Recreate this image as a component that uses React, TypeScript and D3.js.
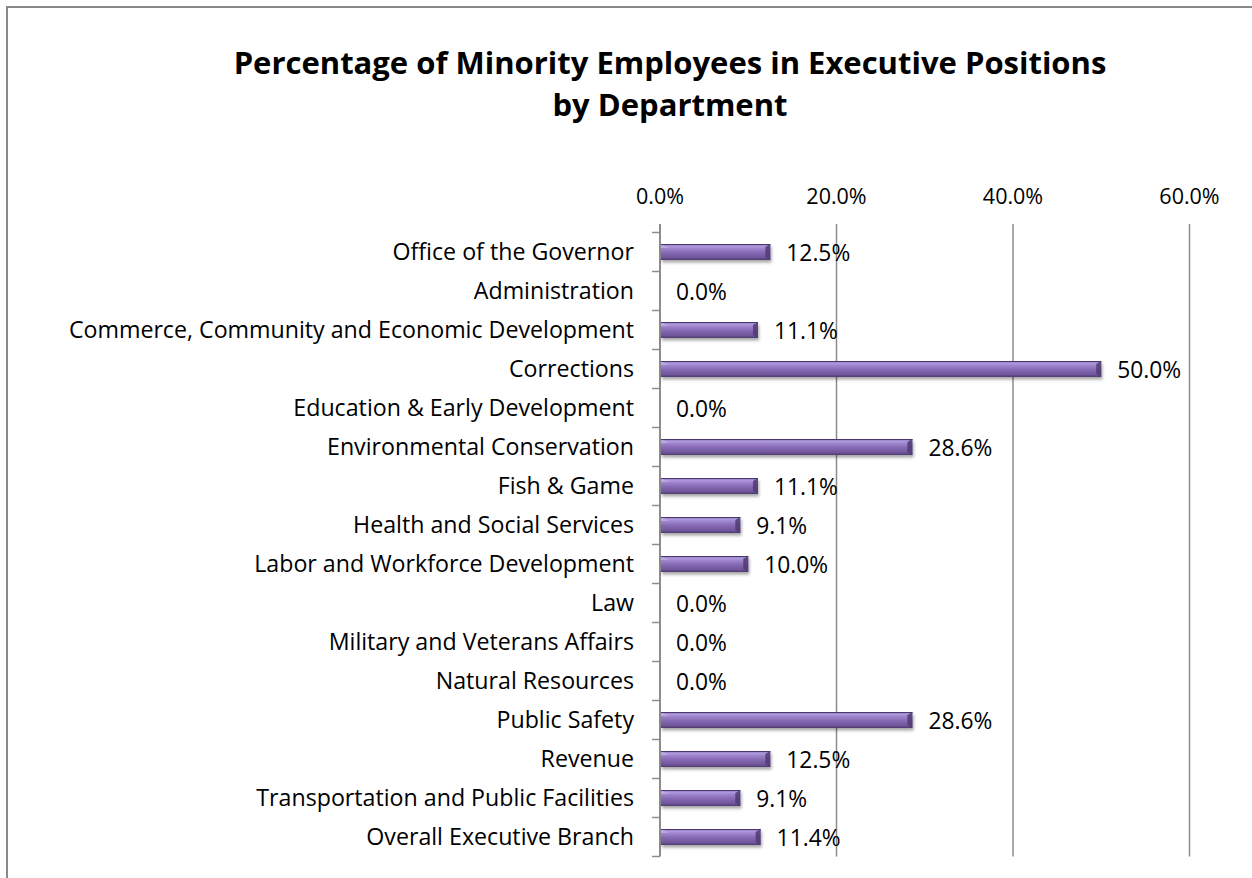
import React from "react";
import * as d3 from "d3";

const categories = [
  "Office of the Governor",
  "Administration",
  "Commerce, Community and Economic Development",
  "Corrections",
  "Education & Early Development",
  "Environmental Conservation",
  "Fish & Game",
  "Health and Social Services",
  "Labor and Workforce Development",
  "Law",
  "Military and Veterans Affairs",
  "Natural Resources",
  "Public Safety",
  "Revenue",
  "Transportation and Public Facilities",
  "Overall Executive Branch",
];
const values = [12.5, 0, 11.1, 50.0, 0, 28.6, 11.1, 9.1, 10.0, 0, 0, 0, 28.6, 12.5, 9.1, 11.4];
const tickValues = [0, 20, 40, 60];
const titleLines = ["Percentage of Minority Employees in Executive Positions", "by Department"];

const W = 1252;
const H = 878;
const FONT = "'Open Sans', 'Noto Sans', sans-serif";
const FS = 23.2;

export default function App() {
  const x = d3.scaleLinear().domain([0, 60]).range([660, 1189.5]);
  const y = d3.scaleBand<string>().domain(categories).range([232.5, 856.5]).padding(0);
  const bh = 16;
  const bw = y.bandwidth();

  return (
    <svg width={W} height={H} style={{ position: "absolute", left: 0, top: 0, background: "#fff" }} fontFamily={FONT}>
      <defs>
        <linearGradient id="barGrad" x1="0" y1="0" x2="0" y2="1">
          <stop offset="0" stopColor="#5b4583" />
          <stop offset="0.12" stopColor="#b29ddf" />
          <stop offset="0.3" stopColor="#9c82cb" />
          <stop offset="0.55" stopColor="#8468b2" />
          <stop offset="0.85" stopColor="#70559a" />
          <stop offset="1" stopColor="#4d3a6d" />
        </linearGradient>
        <filter id="shadow" x="-5%" y="-30%" width="115%" height="180%">
          <feDropShadow dx="1" dy="2.5" stdDeviation="1.6" floodColor="#000" floodOpacity="0.35" />
        </filter>
      </defs>
      <rect x={7} y={7} width={1300} height={1000} fill="#fff" stroke="#898989" strokeWidth={2} />

      {titleLines.map((t, i) => (
        <text key={t} x={670} y={74 + i * 42} textAnchor="middle" fontSize={31} fontWeight="bold" fill="#000">
          {t}
        </text>
      ))}

      {tickValues.map((v) => (
        <g key={v}>
          <line x1={x(v)} x2={x(v)} y1={224} y2={856.5} stroke="#8c8c8c" strokeWidth={v === 0 ? 2 : 1.5} />
          <text x={x(v)} y={196} dy="0.36em" textAnchor="middle" fontSize={21.5} fill="#000">
            {d3.format(".1f")(v) + "%"}
          </text>
        </g>
      ))}

      {d3.range(categories.length + 1).map((i) => {
        const yy = 232.5 + i * bw;
        return <line key={i} x1={652} x2={660} y1={yy} y2={yy} stroke="#8c8c8c" strokeWidth={1.5} />;
      })}

      {categories.map((c, i) => {
        const cy = (y(c) as number) + bw / 2;
        const v = values[i];
        const x1 = x(v);
        const top = cy - bh / 2;
        return (
          <g key={c}>
            <text x={634} y={cy} dy="0.36em" textAnchor="end" fontSize={FS} fill="#000">
              {c}
            </text>
            {v > 0 && (
              <g filter="url(#shadow)">
                <rect x={x(0) + 1} y={top} width={x1 - x(0) - 1} height={bh} fill="url(#barGrad)" />
                <polygon
                  points={`${x1 - 5},${top + 3} ${x1},${top} ${x1},${top + bh} ${x1 - 5},${top + bh - 3}`}
                  fill="#4f3b72"
                  opacity={0.85}
                />
                <polygon
                  points={`${x(0) + 1},${top} ${x(0) + 9},${top + 4} ${x(0) + 1},${top + 4}`}
                  fill="#c2b2e6"
                  opacity={0.7}
                />
                <line x1={x(0) + 1} x2={x1} y1={top + 0.5} y2={top + 0.5} stroke="#4b3870" strokeWidth={1} />
              </g>
            )}
            <text x={x1 + 16} y={cy} dy="0.38em" fontSize={22.8} fill="#000">
              {d3.format(".1f")(v) + "%"}
            </text>
          </g>
        );
      })}
    </svg>
  );
}
